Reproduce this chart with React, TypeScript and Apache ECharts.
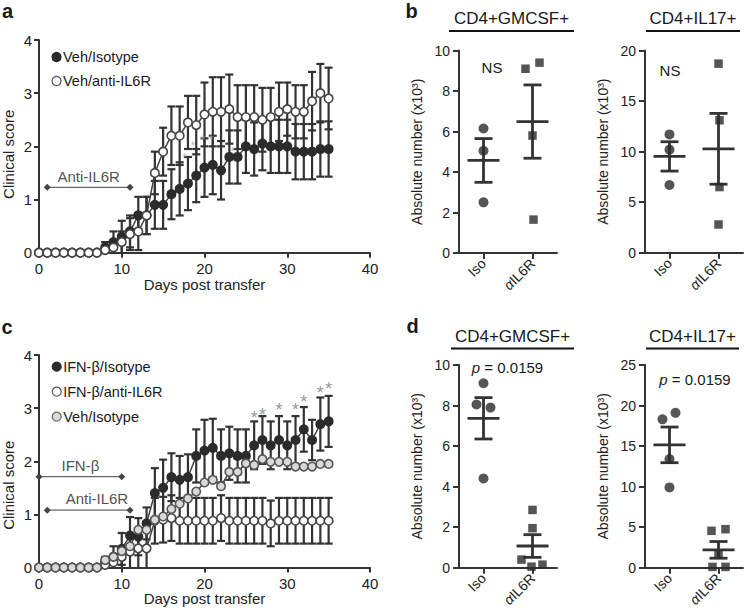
import React, { useEffect, useRef } from "react";
import * as echarts from "echarts";

const FONT = "'Liberation Sans', Arial, sans-serif";
const DARK = "#2b2b2b";
const AXIS = "#333333";

// ---------- Panel a / c : clinical score time course ----------
const days = [0,1,2,3,4,5,6,7,8,9,10,11,12,13,14,15,16,17,18,19,20,21,22,23,24,25,26,27,28,29,30,31,32,33,34,35];
const dayTicks = [0, 40, 10];
const scoreTicks = [0, 4, 1];

// panel a
const vehIsoA = [0,0,0,0,0,0,0,0, 0.1,0.2,0.3,0.4,0.7,0.7, 0.9,0.9,1.1,1.2,1.3,1.45,1.6,1.65,1.55,1.8,1.8,2.0,1.95,2.05,2.0,2.0,2.0,1.9,1.9,1.9,1.95,1.95];
const vehIsoAErr = [0,0,0,0,0,0,0,0, 0.1,0.2,0.3,0.3,0.35,0.35, 0.45,0.45,0.47,0.5,0.5,0.5,0.55,0.55,0.55,0.5,0.5,0.5,0.5,0.5,0.5,0.5,0.5,0.52,0.52,0.52,0.52,0.52];
const vehAntiA = [0,0,0,0,0,0,0,0, 0.05,0.1,0.2,0.35,0.4,0.7, 1.5,1.9,2.2,2.2,2.45,2.4,2.6,2.65,2.65,2.7,2.55,2.55,2.55,2.5,2.55,2.65,2.7,2.65,2.65,2.85,3.0,2.9];
const vehAntiAErr = [0,0,0,0,0,0,0,0, 0.05,0.1,0.2,0.3,0.35,0.35, 0.4,0.45,0.55,0.55,0.5,0.55,0.6,0.65,0.65,0.65,0.6,0.6,0.6,0.6,0.55,0.55,0.5,0.5,0.5,0.55,0.55,0.58];
const antiDaysA = [1, 11];
const antiLevelA = 1.23;
const antiLabelA = [6, 1.43];
const sigDaysA = [17.6, 18.6, 19.8, 20.8, 23.4];
const sigYA = [1.84, 2.07, 2.19, 2.18, 1.97];

// panel c
const ifnIsoC = [0,0,0,0,0,0,0,0, 0.1,0.2,0.35,0.6,0.58,0.83, 1.4,1.5,1.7,1.65,1.7,2.1,2.2,2.25,2.1,2.15,2.1,2.1,2.3,2.4,2.3,2.4,2.3,2.4,2.6,2.4,2.7,2.75];
const ifnIsoCErr = [0,0,0,0,0,0,0,0, 0.1,0.2,0.3,0.35,0.35,0.3, 0.47,0.53,0.45,0.45,0.43,0.5,0.58,0.55,0.5,0.5,0.5,0.5,0.45,0.45,0.45,0.45,0.45,0.45,0.42,0.38,0.5,0.48];
const ifnAntiC = [0,0,0,0,0,0,0,0, 0.05,0.1,0.2,0.3,0.36,0.36, 0.88,0.9,0.93,0.88,0.88,0.88,0.88,0.88,0.93,0.88,0.88,0.88,0.88,0.88,0.83,0.88,0.88,0.88,0.88,0.88,0.88,0.88];
const ifnAntiCErr = [0,0,0,0,0,0,0,0, 0.05,0.1,0.2,0.3,0.36,0.36, 0.43,0.43,0.43,0.43,0.43,0.43,0.43,0.43,0.43,0.43,0.43,0.43,0.43,0.43,0.43,0.43,0.43,0.43,0.43,0.43,0.43,0.43];
const vehIsoC = [0,0,0,0,0,0,0,0, 0.14,0.2,0.31,0.4,0.71,0.71, 0.9,0.96,1.1,1.2,1.3,1.43,1.6,1.65,1.53,1.8,1.8,1.96,1.93,2.04,1.99,1.99,1.99,1.9,1.9,1.9,1.95,1.95];
const ifnDaysC = [0, 10];
const ifnLevelC = 1.71;
const ifnLabelC = [5, 1.92];
const antiDaysC = [1, 11];
const antiLevelC = 1.08;
const antiLabelC = [7, 1.29];
const sigDaysC = [26, 27, 29, 31, 32, 34, 35];
const sigYC = [2.92, 2.98, 3.06, 3.06, 3.22, 3.39, 3.47];

// ---------- Panels b / d : absolute numbers ----------
const groups = ["Iso", "αIL6R"];
// b, CD4+GMCSF+
const b1Iso = [6.15, 5.05, 2.5];
const b1Anti = [9.1, 9.4, 5.8, 1.65];
const b1Mean = [4.57, 6.49];
const b1Sem = [1.08, 1.81];
// b, CD4+IL17+
const b2Iso = [11.7, 10.2, 6.7];
const b2Anti = [18.7, 13.1, 6.5, 2.8];
const b2Mean = [9.53, 10.28];
const b2Sem = [1.45, 3.5];
// d, CD4+GMCSF+
const d1Iso = [9.1, 8.05, 7.9, 4.4];
const d1Anti = [2.85, 1.95, 0.4, 0.05, 0.15];
const d1Mean = [7.37, 1.07];
const d1Sem = [1.02, 0.56];
// d, CD4+IL17+
const d2Iso = [18.3, 19.1, 13.4, 9.9];
const d2Anti = [4.55, 4.75, 1.65, 0.1, 0.1];
const d2Mean = [15.15, 2.2];
const d2Sem = [2.2, 1.03];

// horizontal jitter of the dots (pixels) — style only
const jitB1Iso = [0, 0, 0];
const jitB1Anti = [-7, 7, 0, 1];
const jitB2Iso = [0, 0, 0];
const jitB2Anti = [0, 1, 1, 0];
const jitD1Iso = [0, -7, 7, 0];
const jitD1Anti = [0, 0, -11, -1, 10];
const jitD2Iso = [-7, 6, 0, 0];
const jitD2Anti = [-7, 7, 0, -6, 7];

function tcXAxis(gridIndex: number) {
  return {
    gridIndex,
    type: "value",
    min: dayTicks[0],
    max: dayTicks[1],
    interval: dayTicks[2],
    name: "Days post transfer",
    nameLocation: "middle",
    nameGap: 22,
    nameTextStyle: { fontSize: 15, color: "#222", fontFamily: FONT },
    axisLine: { lineStyle: { color: AXIS, width: 2 } },
    axisTick: { show: true, length: 5, lineStyle: { color: AXIS, width: 2 } },
    axisLabel: { fontSize: 15, color: "#222", margin: 8, fontFamily: FONT },
    splitLine: { show: false },
  };
}
function tcYAxis(gridIndex: number, shiftPad: number) {
  return {
    gridIndex,
    type: "value",
    min: scoreTicks[0],
    max: scoreTicks[1],
    interval: scoreTicks[2],
    name: "Clinical score",
    nameLocation: "middle",
    nameGap: 23,
    nameTextStyle: { fontSize: 15, color: "#222", fontFamily: FONT, padding: [0, shiftPad, 0, 0] },
    axisLine: { show: true, lineStyle: { color: AXIS, width: 2 } },
    axisTick: { show: true, length: 5, lineStyle: { color: AXIS, width: 2 } },
    axisLabel: { fontSize: 15, color: "#222", margin: 7, fontFamily: FONT },
    splitLine: { show: false },
  };
}
function dpXAxis(gridIndex: number) {
  return {
    gridIndex,
    type: "category",
    data: groups,
    boundaryGap: true,
    axisLine: { lineStyle: { color: AXIS, width: 2 } },
    axisTick: { show: true, alignWithLabel: true, length: 6, lineStyle: { color: AXIS, width: 2 } },
    axisLabel: {
      rotate: 45,
      fontSize: 14,
      color: "#222",
      margin: 8,
      fontFamily: FONT,
      formatter: (v: string) => (v.charAt(0) === "α" ? "{g|α}" + v.slice(1) : v),
      rich: { g: { fontStyle: "italic", fontSize: 14, fontFamily: FONT, color: "#222" } },
    },
    splitLine: { show: false },
  };
}
function dpYAxis(gridIndex: number, max: number, interval: number) {
  return {
    gridIndex,
    type: "value",
    min: 0,
    max,
    interval,
    name: "Absolute number (x10³)",
    nameLocation: "middle",
    nameGap: 35,
    nameTextStyle: { fontSize: 14, color: "#222", fontFamily: FONT },
    axisLine: { show: true, lineStyle: { color: AXIS, width: 2 } },
    axisTick: { show: true, length: 6, lineStyle: { color: AXIS, width: 2 } },
    axisLabel: { fontSize: 14, color: "#222", margin: 9, fontFamily: FONT },
    splitLine: { show: false },
  };
}

function errSeries(idx: number, vals: number[], errs: number[], color: string) {
  return {
    type: "custom",
    xAxisIndex: idx,
    yAxisIndex: idx,
    z: 2,
    clip: false,
    data: days
      .map((d, i) => [d, vals[i] - errs[i], vals[i] + errs[i], errs[i]])
      .filter((r) => r[3] > 0),
    encode: { x: 0, y: [1, 2] },
    renderItem: (_p: any, api: any) => {
      const x = api.value(0);
      const loV = api.value(1);
      const lo = Math.max(0, loV);
      const hi = api.value(2);
      const a = api.coord([x, lo]);
      const b = api.coord([x, hi]);
      const w = 4;
      const st = { stroke: color, lineWidth: 2.2 };
      const ch: any[] = [
        { type: "line", shape: { x1: a[0], y1: a[1], x2: b[0], y2: b[1] }, style: st },
        { type: "line", shape: { x1: b[0] - w, y1: b[1], x2: b[0] + w, y2: b[1] }, style: st },
      ];
      if (loV > 0) ch.push({ type: "line", shape: { x1: a[0] - w, y1: a[1], x2: a[0] + w, y2: a[1] }, style: st });
      return { type: "group", children: ch };
    },
  };
}
function tcLine(idx: number, name: string, vals: number[], fill: string, border: string) {
  return {
    type: "line",
    name,
    xAxisIndex: idx,
    yAxisIndex: idx,
    z: 3,
    clip: false,
    data: days.map((d, i) => [d, vals[i]]),
    symbol: "circle",
    symbolSize: 8.5,
    itemStyle: { color: fill, borderColor: border, borderWidth: 1.6 },
    lineStyle: { color: "#444", width: 1.5 },
  };
}
function bracket(idx: number, dd: number[], level: number) {
  return {
    type: "line",
    xAxisIndex: idx,
    yAxisIndex: idx,
    z: 4,
    clip: false,
    data: dd.map((d) => [d, level]),
    symbol: "diamond",
    symbolSize: 7,
    itemStyle: { color: "#444" },
    lineStyle: { color: "#666", width: 1.2 },
  };
}
function labelSeries(idx: number, pos: number[], text: string) {
  return {
    type: "scatter",
    xAxisIndex: idx,
    yAxisIndex: idx,
    z: 4,
    data: [pos],
    symbolSize: 1,
    itemStyle: { color: "rgba(0,0,0,0)" },
    label: { show: true, position: "inside", formatter: text, fontSize: 15, color: "#222", fontFamily: FONT },
  };
}
function starSeries(idx: number, xs: number[], ys: number[], color: string, size: number) {
  return {
    type: "scatter",
    xAxisIndex: idx,
    yAxisIndex: idx,
    z: 5,
    data: xs.map((d, i) => [d, ys[i]]),
    symbolSize: 1,
    itemStyle: { color: "rgba(0,0,0,0)" },
    label: { show: true, position: "inside", formatter: "*", fontSize: size, color, fontFamily: FONT, offset: [0, size * 0.3] },
  };
}
function dots(idx: number, cat: number, vals: number[], jit: number[], symbol: string, size: number) {
  return {
    type: "scatter",
    xAxisIndex: idx,
    yAxisIndex: idx,
    z: 4,
    data: vals.map((v, i) => ({ value: [cat, v], symbolOffset: [jit[i], 0] })),
    symbol,
    symbolSize: size,
    itemStyle: { color: DARK },
  };
}
function meanSem(idx: number, means: number[], sems: number[]) {
  return {
    type: "custom",
    xAxisIndex: idx,
    yAxisIndex: idx,
    z: 3,
    data: means.map((m, i) => [i, m, m - sems[i], m + sems[i]]),
    encode: { x: 0, y: [1, 2, 3] },
    renderItem: (_p: any, api: any) => {
      const c = api.value(0);
      const pm = api.coord([c, api.value(1)]);
      const pl = api.coord([c, api.value(2)]);
      const ph = api.coord([c, api.value(3)]);
      const st = { stroke: "#333", lineWidth: 2.8 };
      const mw = 16;
      const cw = 9;
      return {
        type: "group",
        children: [
          { type: "line", shape: { x1: pl[0], y1: pl[1], x2: ph[0], y2: ph[1] }, style: st },
          { type: "line", shape: { x1: pm[0] - mw, y1: pm[1], x2: pm[0] + mw, y2: pm[1] }, style: st },
          { type: "line", shape: { x1: ph[0] - cw, y1: ph[1], x2: ph[0] + cw, y2: ph[1] }, style: st },
          { type: "line", shape: { x1: pl[0] - cw, y1: pl[1], x2: pl[0] + cw, y2: pl[1] }, style: st },
        ],
      };
    },
  };
}

function txt(x: number, y: number, text: string, fontSize: number, extra: any = {}) {
  return {
    type: "text",
    x,
    y,
    z: 10,
    style: { text, fontSize, fontFamily: FONT, fill: "#1a1a1a", align: "center", verticalAlign: "middle", ...extra },
  };
}
function hline(x1: number, x2: number, y: number) {
  return { type: "line", z: 10, shape: { x1, y1: y, x2, y2: y }, style: { stroke: "#111", lineWidth: 2 } };
}
function legendItem(cx: number, cy: number, fill: string, stroke: string, text: string) {
  return [
    { type: "circle", z: 10, shape: { cx, cy, r: 4.5 }, style: { fill, stroke, lineWidth: 1.2 } },
    { type: "text", z: 10, x: cx + 6.5, y: cy, style: { text, fontSize: 14.5, fontFamily: FONT, fill: "#1a1a1a", align: "left", verticalAlign: "middle" } },
  ];
}

export default function App() {
  const ref = useRef<HTMLDivElement>(null);
  useEffect(() => {
    if (!ref.current) return;
    const chart = echarts.init(ref.current, undefined, { renderer: "svg" });
    const pRich = { i: { fontStyle: "italic", fontSize: 15, fontFamily: FONT, fill: "#1a1a1a" } };
    const option: any = {
      animation: false,
      textStyle: { fontFamily: FONT },
      grid: [
        { left: 38.3, top: 40, width: 331.7, height: 212.7 },
        { left: 459, top: 50.5, width: 98, height: 202.5 },
        { left: 645, top: 50.5, width: 98, height: 202.3 },
        { left: 38.3, top: 355, width: 331.7, height: 212.5 },
        { left: 459, top: 365, width: 98, height: 202.7 },
        { left: 645, top: 365, width: 98, height: 202.7 },
      ],
      xAxis: [tcXAxis(0), dpXAxis(1), dpXAxis(2), tcXAxis(3), dpXAxis(4), dpXAxis(5)],
      yAxis: [
        tcYAxis(0, 16),
        dpYAxis(1, 10, 2),
        dpYAxis(2, 20, 5),
        tcYAxis(3, 48),
        dpYAxis(4, 10, 2),
        dpYAxis(5, 25, 5),
      ],
      series: [
        // panel a
        errSeries(0, vehIsoA, vehIsoAErr, "#333"),
        errSeries(0, vehAntiA, vehAntiAErr, "#333"),
        tcLine(0, "Veh/Isotype", vehIsoA, DARK, DARK),
        tcLine(0, "Veh/anti-IL6R", vehAntiA, "#ffffff", "#444"),
        bracket(0, antiDaysA, antiLevelA),
        labelSeries(0, antiLabelA, "Anti-IL6R"),
        starSeries(0, sigDaysA, sigYA, "#a8a8a8", 12),
        // panel c
        errSeries(3, ifnIsoC, ifnIsoCErr, "#333"),
        errSeries(3, ifnAntiC, ifnAntiCErr, "#333"),
        tcLine(3, "IFN-β/Isotype", ifnIsoC, DARK, DARK),
        tcLine(3, "IFN-β/anti-IL6R", ifnAntiC, "#ffffff", "#444"),
        tcLine(3, "Veh/Isotype ", vehIsoC, "#d9d9d9", "#555"),
        bracket(3, ifnDaysC, ifnLevelC),
        labelSeries(3, ifnLabelC, "IFN-β"),
        bracket(3, antiDaysC, antiLevelC),
        labelSeries(3, antiLabelC, "Anti-IL6R"),
        starSeries(3, sigDaysC, sigYC, "#7d7d7d", 18),
        // panel b
        meanSem(1, b1Mean, b1Sem),
        dots(1, 0, b1Iso, jitB1Iso, "circle", 10),
        dots(1, 1, b1Anti, jitB1Anti, "rect", 8.5),
        meanSem(2, b2Mean, b2Sem),
        dots(2, 0, b2Iso, jitB2Iso, "circle", 10),
        dots(2, 1, b2Anti, jitB2Anti, "rect", 8.5),
        // panel d
        meanSem(4, d1Mean, d1Sem),
        dots(4, 0, d1Iso, jitD1Iso, "circle", 10),
        dots(4, 1, d1Anti, jitD1Anti, "rect", 8.5),
        meanSem(5, d2Mean, d2Sem),
        dots(5, 0, d2Iso, jitD2Iso, "circle", 10),
        dots(5, 1, d2Anti, jitD2Anti, "rect", 8.5),
      ],
      graphic: [
        txt(7.5, 11, "a", 20, { fontWeight: "bold" }),
        txt(411.7, 11, "b", 20, { fontWeight: "bold" }),
        txt(7, 327, "c", 20, { fontWeight: "bold" }),
        txt(412.5, 326, "d", 20, { fontWeight: "bold" }),
        ...legendItem(56.5, 57, DARK, DARK, "Veh/Isotype"),
        ...legendItem(56.5, 81, "#ffffff", "#555", "Veh/anti-IL6R"),
        ...legendItem(56.7, 366.7, DARK, DARK, "IFN-β/Isotype"),
        ...legendItem(56.7, 391.7, "#ffffff", "#555", "IFN-β/anti-IL6R"),
        ...legendItem(56.7, 416.7, "#d9d9d9", "#666", "Veh/Isotype"),
        txt(511.5, 18, "CD4+GMCSF+", 17),
        hline(449, 574, 31),
        txt(693, 18, "CD4+IL17+", 17),
        hline(646, 740, 31),
        txt(512.5, 336, "CD4+GMCSF+", 17),
        hline(451, 574, 348.5),
        txt(692.5, 336, "CD4+IL17+", 17),
        hline(646, 739, 348.5),
        txt(492, 67, "NS", 15),
        txt(670, 70, "NS", 15),
        txt(507.5, 367, "{i|p} = 0.0159", 15, { rich: pRich }),
        txt(695, 379.5, "{i|p} = 0.0159", 15, { rich: pRich }),
      ],
    };
    chart.setOption(option);
    return () => chart.dispose();
  }, []);
  return (
    <div
      ref={ref}
      style={{ position: "fixed", left: 0, top: 0, width: 745, height: 615, background: "#ffffff" }}
    />
  );
}
